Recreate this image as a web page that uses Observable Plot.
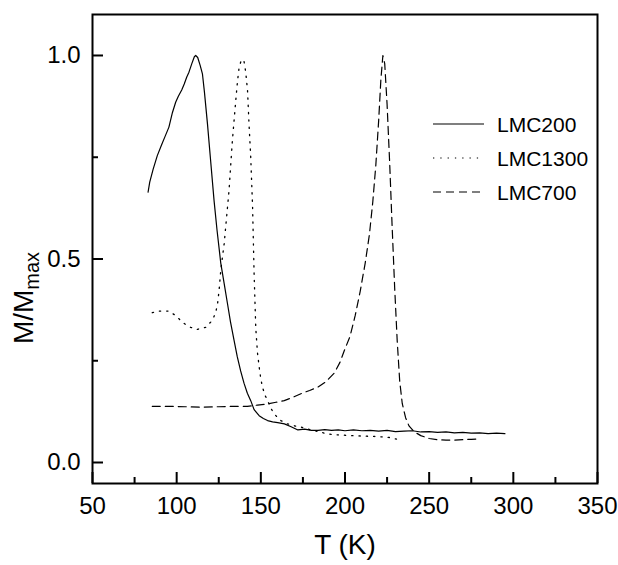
<!DOCTYPE html>
<html>
<head>
<meta charset="utf-8">
<script src="https://cdn.jsdelivr.net/npm/d3@7"></script>
<script src="https://cdn.jsdelivr.net/npm/@observablehq/plot@0.6"></script>
<style>
  html, body { margin: 0; padding: 0; background: #fff; }
  #chart { width: 618px; height: 565px; }
  svg { font-family: "Liberation Sans", Arial, Helvetica, sans-serif; }
</style>
</head>
<body>
<div id="chart"></div>
<script>
// ---- data ----
const seriesNames = ["LMC200", "LMC1300", "LMC700"];

const lmc200T = [83, 84, 86, 88.5, 91, 93, 95.4, 97.5, 99.4, 101, 103, 104.5, 106, 107.3, 109, 110.5, 111.3, 112.5, 114, 115.3, 116.5, 118.3, 120, 122.2, 124, 126.2, 128.2, 130.2, 132, 134.1, 136, 138, 140, 142, 144, 146, 149, 151.5, 154, 157, 160, 164, 168, 172, 176, 180, 184, 188, 192, 196, 200, 205, 210, 215, 220, 225, 230, 235, 240, 245, 250, 255, 260, 265, 270, 275, 280, 285, 290, 295];
const lmc200M = [0.664, 0.689, 0.72, 0.754, 0.78, 0.80, 0.824, 0.86, 0.885, 0.90, 0.915, 0.93, 0.947, 0.959, 0.98, 0.997, 1.0, 0.995, 0.975, 0.955, 0.91, 0.832, 0.75, 0.644, 0.57, 0.49, 0.44, 0.39, 0.345, 0.30, 0.26, 0.225, 0.195, 0.17, 0.152, 0.13, 0.115, 0.108, 0.103, 0.10, 0.098, 0.095, 0.088, 0.080, 0.082, 0.079, 0.079, 0.081, 0.079, 0.080, 0.078, 0.080, 0.078, 0.079, 0.077, 0.079, 0.076, 0.077, 0.078, 0.075, 0.076, 0.074, 0.075, 0.073, 0.074, 0.072, 0.073, 0.071, 0.072, 0.071];

const lmc1300T = [85.5, 90, 95.4, 99, 102.4, 105, 108.3, 112, 117.3, 120.2, 122, 123.2, 124.3, 125.2, 126.2, 127.2, 128.2, 129.6, 131.1, 132.1, 133.1, 134.1, 135.1, 136.1, 137.1, 138.5, 140, 141, 142.1, 143, 144, 145.1, 146, 147, 148, 149, 150, 151, 152.5, 154, 156, 157.9, 160, 161.9, 165, 169, 173.8, 180, 185, 189.7, 195, 200, 203.6, 210, 217.4, 222, 227.4, 230, 233.3];
const lmc1300M = [0.368, 0.372, 0.372, 0.362, 0.349, 0.34, 0.332, 0.327, 0.332, 0.345, 0.357, 0.369, 0.39, 0.423, 0.472, 0.505, 0.537, 0.60, 0.668, 0.73, 0.791, 0.84, 0.889, 0.935, 0.971, 0.99, 0.986, 0.96, 0.914, 0.83, 0.75, 0.627, 0.464, 0.33, 0.27, 0.235, 0.205, 0.185, 0.165, 0.152, 0.133, 0.12, 0.11, 0.103, 0.096, 0.091, 0.087, 0.080, 0.075, 0.070, 0.068, 0.067, 0.066, 0.065, 0.064, 0.063, 0.061, 0.058, 0.054];

const lmc700T = [85.5, 95, 105, 114, 125, 135, 142, 148, 154, 159, 163.9, 169, 173.8, 179, 183.8, 188.5, 193.7, 197, 199.6, 203, 206, 209, 212, 214.5, 216.5, 218.3, 220, 221.3, 222.5, 223.6, 225, 226.5, 228, 229.5, 231, 232.5, 234, 236, 238, 241, 245, 250, 255, 260, 265, 270, 275, 280];
const lmc700M = [0.138, 0.138, 0.137, 0.136, 0.137, 0.138, 0.138, 0.141, 0.144, 0.148, 0.152, 0.16, 0.169, 0.177, 0.185, 0.198, 0.22, 0.246, 0.275, 0.31, 0.36, 0.42, 0.49, 0.56, 0.64, 0.73, 0.84, 0.94, 1.0, 0.98, 0.88, 0.74, 0.58, 0.43, 0.30, 0.20, 0.145, 0.11, 0.09, 0.076, 0.066, 0.059, 0.056, 0.055, 0.055, 0.056, 0.057, 0.058];

const xMajorTicks = [50, 100, 150, 200, 250, 300, 350];
const xMinorTicks = [75, 125, 175, 225, 275, 325];
const yMajorTicks = [0.0, 0.5, 1.0];
const yMinorTicks = [0.25, 0.75];

// ---- styles ----
const dashes = {LMC200: null, LMC1300: "1.3,6", LMC700: "8,5"};
const W = 618, H = 565;
const mL = 92, mR = 21, mT = 14, mB = 82;
const fw = W - mL - mR, fh = H - mT - mB;
const FONT = "Liberation Sans, Arial, Helvetica, sans-serif";

const toRows = (name, T, M) => T.map((t, i) => ({series: name, T: t, M: M[i]}));
const rows = {
  LMC200: toRows("LMC200", lmc200T, lmc200M),
  LMC1300: toRows("LMC1300", lmc1300T, lmc1300M),
  LMC700: toRows("LMC700", lmc700T, lmc700M)
};

// Legend drawn inside the frame, as in the reference
function legendMark() {
  const g = d3.create("svg:g").attr("font-family", FONT).attr("font-size", 21)
    .attr("text-anchor", "start");
  const x0 = 433, x1 = 484, tx = 497, y0 = 124, dy = 34;
  seriesNames.forEach((name, i) => {
    const y = y0 + i * dy;
    g.append("line").attr("x1", x0).attr("x2", x1).attr("y1", y).attr("y2", y)
      .attr("stroke", "#000").attr("stroke-width", 1.2)
      .attr("stroke-dasharray", dashes[name]);
    g.append("text").attr("x", tx).attr("y", y).attr("dy", "0.36em")
      .attr("text-anchor", "start").attr("fill", "#000").text(name);
  });
  return g.node();
}

// Y-axis title with subscript
function yTitleMark() {
  const g = d3.create("svg:g").attr("font-family", FONT);
  const t = g.append("text")
    .attr("transform", `translate(33,${298}) rotate(-90)`)
    .attr("text-anchor", "middle").attr("font-size", 28).attr("fill", "#000");
  t.append("tspan").text("M/M");
  t.append("tspan").attr("font-size", 20).attr("dy", "0.3em").text("max");
  return g.node();
}

const chart = Plot.plot({
  width: W, height: H,
  marginLeft: mL, marginRight: mR, marginTop: mT, marginBottom: mB,
  style: {fontFamily: FONT, fontSize: "24px", color: "#000", background: "#fff"},
  x: {domain: [50, 350], axis: null},
  y: {domain: [-0.0516, 1.1007], axis: null},
  marks: [
    // series
    ...seriesNames.map(name => Plot.line(rows[name], {
      x: "T", y: "M", stroke: "#000", strokeWidth: name === "LMC1300" ? 1.3 : 1.2,
      strokeDasharray: dashes[name], curve: "linear"
    })),
    // inward ticks
    Plot.tickX(xMajorTicks, {x: d => d, insetTop: fh - 11, stroke: "#000", strokeWidth: 2}),
    Plot.tickX(xMinorTicks, {x: d => d, insetTop: fh - 6, stroke: "#000", strokeWidth: 2}),
    Plot.tickY(yMajorTicks, {y: d => d, insetRight: fw - 11, stroke: "#000", strokeWidth: 2}),
    Plot.tickY(yMinorTicks, {y: d => d, insetRight: fw - 6, stroke: "#000", strokeWidth: 2}),
    // tick labels
    Plot.axisX(xMajorTicks, {anchor: "bottom", tickSize: 0, tickPadding: 13, fontSize: 24, label: null, tickFormat: d => String(d)}),
    Plot.axisY(yMajorTicks, {anchor: "left", tickSize: 0, tickPadding: 12, fontSize: 24, label: null, tickFormat: d => d.toFixed(1)}),
    // frame
    Plot.frame({stroke: "#000", strokeWidth: 2}),
    // x title
    Plot.text(["T (K)"], {frameAnchor: "bottom", dy: 62, fontSize: 28, lineAnchor: "middle", fill: "#000"}),
    yTitleMark,
    legendMark
  ]
});

document.getElementById("chart").appendChild(chart);
</script>
</body>
</html>
